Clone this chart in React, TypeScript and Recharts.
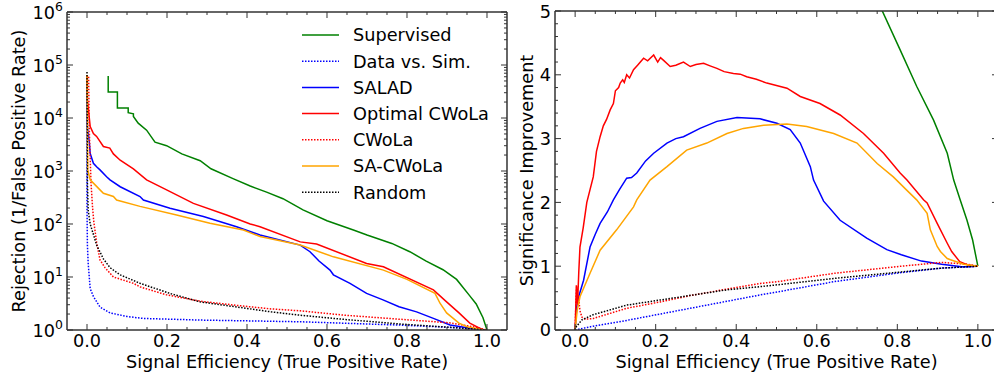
import React from 'react';
import { LineChart, Line, XAxis, YAxis, Legend } from 'recharts';

const FONT = '"DejaVu Sans", sans-serif';
const FS = 17.7;
const AXIS = '#333';

const GREEN = '#008000';
const BLUE = '#0000ff';
const RED = '#ff0000';
const ORANGE = '#ffa500';
const BLACK = '#000000';

// ---------- Left panel: Rejection (1/FPR) vs signal efficiency ----------
const rocSupervised: [number, number][] = [
  [0.053, 62000], [0.053, 31000], [0.076, 31000], [0.076, 15500], [0.103, 15500], [0.103, 12600],
  [0.116, 12000], [0.116, 10700], [0.128, 8000], [0.149, 5900], [0.17, 3500], [0.199, 3000],
  [0.237, 2100], [0.283, 1560], [0.31, 1100], [0.365, 720], [0.408, 520], [0.449, 400],
  [0.49, 300], [0.54, 185], [0.6, 115], [0.666, 77], [0.7, 62], [0.762, 43], [0.807, 30],
  [0.848, 20], [0.89, 13.7], [0.924, 9], [0.956, 4.5], [0.973, 3.1], [0.99, 1.7], [1.0, 1.0],
];
const rocDataVsSim: [number, number][] = [
  [0.0, 60000], [0.0, 200], [0.001, 40], [0.003, 18], [0.008, 6], [0.016, 4.3], [0.0325, 2.7],
  [0.0575, 2.1], [0.1, 1.8], [0.141, 1.65], [0.2825, 1.54], [0.533, 1.43], [0.78, 1.24],
  [0.91, 1.12], [1.0, 1.0],
];
const rocSalad: [number, number][] = [
  [0.0, 60000], [0.001, 6900], [0.006, 3300], [0.008, 2140], [0.016, 1400], [0.024, 1200],
  [0.0325, 1050], [0.049, 780], [0.0575, 680], [0.083, 505], [0.1325, 330], [0.141, 283],
  [0.2075, 198], [0.291, 138], [0.374, 89], [0.4325, 62], [0.533, 40], [0.5575, 30],
  [0.58, 20], [0.6075, 13.5], [0.616, 11], [0.6575, 7.6], [0.699, 4.9], [0.74, 3.7],
  [0.78, 2.75], [0.824, 2.2], [0.866, 1.66], [0.9075, 1.24], [0.95, 1.1], [0.99, 1.0],
];
const rocOptimalCwola: [number, number][] = [
  [0.0, 65000], [0.001, 22000], [0.008, 6900], [0.016, 5100], [0.024, 4500], [0.041, 2900],
  [0.057, 2700], [0.066, 2100], [0.083, 1600], [0.116, 1100], [0.149, 680], [0.199, 440],
  [0.266, 245], [0.349, 148], [0.408, 100], [0.4325, 89], [0.533, 46], [0.574, 42],
  [0.699, 18], [0.741, 15.6], [0.866, 5.7], [0.899, 3.4], [0.93, 2.1], [0.957, 1.35], [0.99, 1.0],
];
const rocCwola: [number, number][] = [
  [0.004, 60000], [0.006, 5000], [0.01, 600], [0.014, 200], [0.017, 110], [0.024, 45],
  [0.0325, 21], [0.045, 15], [0.066, 10], [0.116, 7.6], [0.1325, 6.5], [0.199, 4.6],
  [0.2825, 3.5], [0.377, 2.9], [0.46, 2.5], [0.533, 2.3], [0.645, 1.9], [0.78, 1.6],
  [0.91, 1.36], [0.976, 1.11], [1.0, 1.0],
];
const rocSaCwola: [number, number][] = [
  [0.0, 65000], [0.002, 1050], [0.008, 680], [0.016, 590], [0.0325, 440], [0.041, 380],
  [0.066, 330], [0.074, 283], [0.1325, 215], [0.224, 148], [0.3075, 103], [0.391, 77],
  [0.4325, 58], [0.533, 40], [0.616, 24], [0.741, 13.5], [0.8, 9], [0.87, 4.9],
  [0.8825, 3.2], [0.899, 2.1], [0.93, 1.35], [0.95, 1.15], [0.99, 1.0],
];
const rocRandom: [number, number][] = [
  [0.0, 74000], [0.001, 600], [0.003, 180], [0.008, 100], [0.017, 60], [0.024, 40],
  [0.041, 22], [0.0575, 15], [0.0825, 11], [0.116, 8.6], [0.1325, 7.6], [0.211, 4.8],
  [0.2825, 3.4], [0.377, 2.7], [0.46, 2.2], [0.533, 1.9], [0.645, 1.58], [0.78, 1.3],
  [0.91, 1.12], [1.0, 1.0],
];

// ---------- Right panel: Significance improvement vs signal efficiency ----------
const sicSupervised: [number, number][] = [
  [0.74, 5.4], [0.762, 5.01], [0.807, 4.39], [0.848, 3.82], [0.89, 3.29], [0.924, 2.77],
  [0.94, 2.35], [0.956, 2.04], [0.973, 1.72], [0.987, 1.41], [1.0, 1.0],
];
const sicDataVsSim: [number, number][] = [
  [0.0, 0.0], [0.045, 0.06], [0.128, 0.15], [0.211, 0.25], [0.294, 0.35], [0.377, 0.45],
  [0.46, 0.55], [0.505, 0.6], [0.645, 0.76], [0.81, 0.9], [0.91, 0.97], [1.0, 1.0],
];
const sicSalad: [number, number][] = [
  [0.0, 0.0], [0.004, 0.37], [0.01, 0.55], [0.021, 0.78], [0.037, 1.3], [0.05, 1.5],
  [0.062, 1.67], [0.08, 1.85], [0.095, 2.04], [0.11, 2.2], [0.128, 2.38], [0.14, 2.39],
  [0.153, 2.46], [0.175, 2.65], [0.195, 2.77], [0.228, 2.93], [0.25, 3.0], [0.269, 3.03],
  [0.31, 3.16], [0.352, 3.27], [0.402, 3.33], [0.459, 3.31], [0.501, 3.24], [0.534, 3.14],
  [0.559, 2.93], [0.584, 2.56], [0.592, 2.35], [0.617, 2.02], [0.658, 1.72], [0.724, 1.44],
  [0.774, 1.26], [0.81, 1.18], [0.86, 1.08], [0.91, 1.03], [0.96, 0.99], [0.973, 0.99], [1.0, 1.0],
];
const sicOptimalCwola: [number, number][] = [
  [0.0, 0.0], [0.003, 0.7], [0.006, 0.4], [0.009, 0.9], [0.012, 1.3], [0.02, 1.6],
  [0.029, 2.0], [0.037, 2.2], [0.045, 2.4], [0.053, 2.8], [0.062, 3.03], [0.07, 3.2],
  [0.078, 3.3], [0.087, 3.45], [0.095, 3.55], [0.1, 3.75], [0.108, 3.8], [0.112, 3.87],
  [0.118, 3.92], [0.122, 3.88], [0.128, 4.0], [0.135, 3.95], [0.145, 4.08], [0.155, 4.15],
  [0.17, 4.26], [0.18, 4.22], [0.195, 4.31], [0.205, 4.2], [0.212, 4.27], [0.219, 4.23],
  [0.236, 4.13], [0.25, 4.15], [0.269, 4.2], [0.286, 4.13], [0.3, 4.16], [0.319, 4.18],
  [0.335, 4.14], [0.352, 4.1], [0.37, 4.05], [0.393, 4.02], [0.41, 4.01], [0.426, 3.97],
  [0.45, 3.93], [0.476, 3.87], [0.526, 3.79], [0.559, 3.66], [0.608, 3.55], [0.658, 3.37],
  [0.716, 3.08], [0.766, 2.77], [0.807, 2.46], [0.824, 2.35], [0.865, 2.04], [0.874, 1.99],
  [0.899, 1.67], [0.924, 1.36], [0.935, 1.23], [0.955, 1.07], [0.975, 1.02], [1.0, 1.0],
];
const sicCwola: [number, number][] = [
  [0.0, 0.0], [0.002, 0.45], [0.004, 0.68], [0.006, 0.4], [0.008, 0.55], [0.012, 0.3],
  [0.017, 0.2], [0.025, 0.17], [0.045, 0.18], [0.128, 0.34], [0.211, 0.44], [0.294, 0.55],
  [0.377, 0.64], [0.46, 0.73], [0.505, 0.76], [0.645, 0.89], [0.81, 1.0], [0.91, 1.06],
  [0.976, 1.03], [1.0, 1.0],
];
const sicSaCwola: [number, number][] = [
  [0.0, 0.0], [0.005, 0.3], [0.012, 0.52], [0.037, 0.89], [0.062, 1.25], [0.103, 1.57],
  [0.145, 1.93], [0.153, 2.04], [0.186, 2.35], [0.228, 2.56], [0.277, 2.82], [0.327, 2.93],
  [0.377, 3.08], [0.418, 3.16], [0.468, 3.21], [0.526, 3.23], [0.575, 3.19], [0.642, 3.08],
  [0.7, 2.93], [0.75, 2.61], [0.79, 2.4], [0.822, 2.2], [0.848, 2.04], [0.874, 1.83],
  [0.882, 1.57], [0.899, 1.31], [0.907, 1.23], [0.924, 1.12], [0.932, 1.1], [0.965, 1.03], [1.0, 1.0],
];
const sicRandom: [number, number][] = [
  [0.0, 0.0], [0.0, 0.03], [0.017, 0.16], [0.045, 0.24], [0.128, 0.39], [0.211, 0.47],
  [0.294, 0.55], [0.377, 0.63], [0.46, 0.68], [0.505, 0.71], [0.645, 0.81], [0.81, 0.91],
  [0.91, 0.97], [1.0, 1.0],
];

// ---------- Ticks / labels ----------
const xTickValues = [0, 0.05, 0.1, 0.15, 0.2, 0.25, 0.3, 0.35, 0.4, 0.45, 0.5, 0.55, 0.6, 0.65, 0.7, 0.75, 0.8, 0.85, 0.9, 0.95, 1.0];
const logDecades = [1, 10, 100, 1000, 10000, 100000, 1000000];
const logMinorMultipliers = [2, 3, 4, 5, 6, 7, 8, 9];
const logTickValues = logDecades.concat(
  logDecades.slice(0, 6).flatMap((d) => logMinorMultipliers.map((m) => d * m))
);
const sicTickValues = [0, 0.2, 0.4, 0.6, 0.8, 1, 1.2, 1.4, 1.6, 1.8, 2, 2.2, 2.4, 2.6, 2.8, 3, 3.2, 3.4, 3.6, 3.8, 4, 4.2, 4.4, 4.6, 4.8, 5];

const X_LABEL = 'Signal Efficiency (True Positive Rate)';
const Y_LABEL_LEFT = 'Rejection (1/False Positive Rate)';
const Y_LABEL_RIGHT = 'Significance Improvement';

type Series = { name: string; color: string; dotted: boolean; roc: [number, number][]; sic: [number, number][] };
const seriesList: Series[] = [
  { name: 'Supervised', color: GREEN, dotted: false, roc: rocSupervised, sic: sicSupervised },
  { name: 'Data vs. Sim.', color: BLUE, dotted: true, roc: rocDataVsSim, sic: sicDataVsSim },
  { name: 'SALAD', color: BLUE, dotted: false, roc: rocSalad, sic: sicSalad },
  { name: 'Optimal CWoLa', color: RED, dotted: false, roc: rocOptimalCwola, sic: sicOptimalCwola },
  { name: 'CWoLa', color: RED, dotted: true, roc: rocCwola, sic: sicCwola },
  { name: 'SA-CWoLa', color: ORANGE, dotted: false, roc: rocSaCwola, sic: sicSaCwola },
  { name: 'Random', color: BLACK, dotted: true, roc: rocRandom, sic: sicRandom },
];

const toPts = (arr: [number, number][]) => arr.map(([x, y]) => ({ x, y }));

const near = (v: number, step: number) => Math.abs(v / step - Math.round(v / step)) < 1e-6;
const isLogMajor = (v: number) => near(Math.log10(v), 1);

const MAJ = 6;
const MIN = 3;
const THIN = 0.001;

const BottomTick = (props: any) => {
  const { x, y, payload } = props;
  const v = payload.value;
  const major = near(v, 0.2);
  return (
    <g>
      <line x1={x} y1={y} x2={x} y2={y - (major ? MAJ : MIN)} stroke={AXIS} strokeWidth={1} />
      {major && (
        <text x={x} y={y + 17} textAnchor="middle" fontFamily={FONT} fontSize={FS} fill="#000">
          {v.toFixed(1)}
        </text>
      )}
    </g>
  );
};

const TopTick = (props: any) => {
  const { x, y, payload } = props;
  const major = near(payload.value, 0.2);
  return <line x1={x} y1={y} x2={x} y2={y + (major ? MAJ : MIN)} stroke={AXIS} strokeWidth={1} />;
};

const LogLeftTick = (props: any) => {
  const { x, y, payload } = props;
  const v = payload.value;
  const major = isLogMajor(v);
  return (
    <g>
      <line x1={x} y1={y} x2={x + (major ? MAJ : MIN)} y2={y} stroke={AXIS} strokeWidth={1} />
      {major && (
        <text x={x - 4} y={y + 7} textAnchor="end" fontFamily={FONT} fontSize={FS} fill="#000">
          10
          <tspan dy={-8} fontSize={12.4}>{Math.round(Math.log10(v))}</tspan>
        </text>
      )}
    </g>
  );
};

const LogRightTick = (props: any) => {
  const { x, y, payload } = props;
  const major = isLogMajor(payload.value);
  return <line x1={x} y1={y} x2={x - (major ? MAJ : MIN)} y2={y} stroke={AXIS} strokeWidth={1} />;
};

const LinLeftTick = (props: any) => {
  const { x, y, payload } = props;
  const v = payload.value;
  const major = near(v, 1);
  return (
    <g>
      <line x1={x} y1={y} x2={x + (major ? MAJ : MIN)} y2={y} stroke={AXIS} strokeWidth={1} />
      {major && (
        <text x={x - 4} y={y + 6.5} textAnchor="end" fontFamily={FONT} fontSize={FS} fill="#000">
          {Math.round(v)}
        </text>
      )}
    </g>
  );
};

const LinRightTick = (props: any) => {
  const { x, y, payload } = props;
  const major = near(payload.value, 1);
  return <line x1={x} y1={y} x2={x - (major ? MAJ : MIN)} y2={y} stroke={AXIS} strokeWidth={1} />;
};

const xLabel = (props: any) => {
  const vb = props.viewBox;
  return (
    <text x={vb.x + vb.width / 2} y={vb.y + 38} textAnchor="middle" fontFamily={FONT} fontSize={FS} fill="#000">
      {X_LABEL}
    </text>
  );
};

const makeYLabel = (text: string, dx: number) => (props: any) => {
  const vb = props.viewBox;
  const cx = vb.x - dx;
  const cy = vb.y + vb.height / 2;
  return (
    <text
      x={cx}
      y={cy}
      transform={`rotate(-90, ${cx}, ${cy})`}
      textAnchor="middle"
      dominantBaseline="central"
      fontFamily={FONT}
      fontSize={FS}
      fill="#000"
    >
      {text}
    </text>
  );
};

const LegendBox = () => (
  <svg width={220} height={190} style={{ display: 'block' }}>
    {seriesList.map((s, i) => {
      const cy = 13 + 26.2 * i;
      return (
        <g key={s.name}>
          <line
            x1={2}
            x2={39}
            y1={cy}
            y2={cy}
            stroke={s.color}
            strokeWidth={1.5}
            strokeDasharray={s.dotted ? '1.5 1.5' : undefined}
          />
          <text x={53} y={cy + 6.3} fontFamily={FONT} fontSize={FS} fill="#000">
            {s.name}
          </text>
        </g>
      );
    })}
  </svg>
);

const frameAxes = (isLog: boolean) => {
  const yTicks = isLog ? logTickValues : sicTickValues;
  const yDomain = isLog ? [1, 1000000] : [0, 5];
  return [
    <XAxis
      key="xb"
      xAxisId="b"
      type="number"
      dataKey="x"
      domain={[-0.05, 1.05]}
      allowDataOverflow
      ticks={xTickValues}
      interval={0}
      height={THIN}
      tickSize={0}
      tickMargin={0}
      tickLine={false}
      axisLine={{ stroke: AXIS, strokeWidth: 1.5 }}
      tick={<BottomTick />}
      label={{ content: xLabel }}
    />,
    <XAxis
      key="xt"
      xAxisId="t"
      orientation="top"
      type="number"
      dataKey="x"
      domain={[-0.05, 1.05]}
      allowDataOverflow
      ticks={xTickValues}
      interval={0}
      height={THIN}
      tickSize={0}
      tickMargin={0}
      tickLine={false}
      axisLine={{ stroke: AXIS, strokeWidth: 1.5 }}
      tick={<TopTick />}
    />,
    <YAxis
      key="yl"
      yAxisId="l"
      type="number"
      dataKey="y"
      scale={isLog ? 'log' : 'linear'}
      domain={yDomain}
      allowDataOverflow
      ticks={yTicks}
      interval={0}
      width={THIN}
      tickSize={0}
      tickMargin={0}
      tickLine={false}
      axisLine={{ stroke: AXIS, strokeWidth: 1.5 }}
      tick={isLog ? <LogLeftTick /> : <LinLeftTick />}
      label={{ content: makeYLabel(isLog ? Y_LABEL_LEFT : Y_LABEL_RIGHT, isLog ? 48.5 : 28) }}
    />,
    <YAxis
      key="yr"
      yAxisId="r"
      orientation="right"
      type="number"
      dataKey="y"
      scale={isLog ? 'log' : 'linear'}
      domain={yDomain}
      allowDataOverflow
      ticks={yTicks}
      interval={0}
      width={THIN}
      tickSize={0}
      tickMargin={0}
      tickLine={false}
      axisLine={{ stroke: AXIS, strokeWidth: 1.5 }}
      tick={isLog ? <LogRightTick /> : <LinRightTick />}
    />,
  ];
};

const renderLines = (key: 'roc' | 'sic') =>
  seriesList.map((s) => (
    <Line
      key={s.name + key}
      xAxisId="b"
      yAxisId="l"
      data={toPts(s[key])}
      dataKey="y"
      name={s.name}
      type="linear"
      stroke={s.color}
      strokeWidth={1.5}
      strokeDasharray={s.dotted ? '1.5 1.5' : undefined}
      dot={false}
      activeDot={false}
      isAnimationActive={false}
    />
  ));

export default function App() {
  return (
    <div
      style={{
        position: 'absolute',
        left: 0,
        top: 0,
        width: 994,
        height: 377,
        overflow: 'hidden',
        background: '#fff',
        fontFamily: FONT,
      }}
    >
      <div style={{ position: 'absolute', left: 0, top: 0 }}>
        <LineChart width={520} height={377} margin={{ top: 12, left: 67, right: 13, bottom: 47 }}>
          {frameAxes(true)}
          {renderLines('roc')}
          <Legend
            layout="vertical"
            align="center"
            verticalAlign="middle"
            wrapperStyle={{ position: 'absolute', left: 300, top: 22, width: 220, height: 190 }}
            content={() => <LegendBox />}
          />
        </LineChart>
      </div>
      <div style={{ position: 'absolute', left: 500, top: 0 }}>
        <LineChart width={500} height={377} margin={{ top: 11, left: 55, right: 2, bottom: 47 }}>
          {frameAxes(false)}
          {renderLines('sic')}
        </LineChart>
      </div>
    </div>
  );
}
